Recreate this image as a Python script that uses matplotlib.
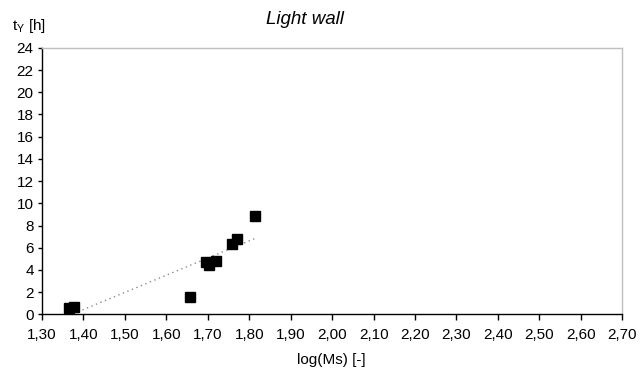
import numpy as np
import matplotlib.pyplot as plt
from matplotlib.ticker import FuncFormatter, MultipleLocator

plt.rcParams['font.family'] = ['Liberation Sans', 'DejaVu Sans']
plt.rcParams['mathtext.fontset'] = 'custom'
plt.rcParams['mathtext.rm'] = 'Liberation Sans'
plt.rcParams['mathtext.it'] = 'Liberation Sans:italic'

# measured points
log_ms = [1.365, 1.378, 1.656, 1.696, 1.704, 1.721, 1.758, 1.770, 1.815]
t_y = [0.59, 0.66, 1.57, 4.71, 4.48, 4.82, 6.37, 6.82, 8.88]

title = "Light wall"
xlabel = "log(Ms) [-]"
ylabel = r"t$_{\mathrm{Y}}$ [h]"

fig = plt.figure(figsize=(6.41, 3.69), dpi=100)
ax = fig.add_axes([0.0655, 0.148, 0.9053, 0.7225])

ax.plot(log_ms, t_y, 's', color='black', ms=7.6, zorder=3)

# linear trend over the data range
k, b = np.polyfit(log_ms, t_y, 1)
xs = np.array([min(log_ms), max(log_ms)])
ax.plot(xs, k * xs + b, color='#8c8c8c', lw=1.0, ls=(0, (1, 2.5)), zorder=2)

ax.set_xlim(1.30, 2.70)
ax.set_ylim(0, 24)
ax.xaxis.set_major_locator(MultipleLocator(0.1))
ax.yaxis.set_major_locator(MultipleLocator(2))
ax.xaxis.set_major_formatter(FuncFormatter(lambda v, p: f"{v:.2f}".replace('.', ',')))
ax.yaxis.set_major_formatter(FuncFormatter(lambda v, p: f"{v:.0f}"))

for s in ['top', 'right']:
    ax.spines[s].set_color('#bfbfbf')
    ax.spines[s].set_linewidth(1.0)
for s in ['left', 'bottom']:
    ax.spines[s].set_color('black')
    ax.spines[s].set_linewidth(1.0)

ax.tick_params(axis='x', direction='out', length=4, width=1, labelsize=11, pad=6)
ax.tick_params(axis='y', direction='out', length=3, width=1, labelsize=11, pad=3)

fig.text(0.475, 0.946, title, fontsize=13.5, style='italic', ha='center', va='center')
fig.text(0.018, 0.93, ylabel, fontsize=11, ha='left', va='center')
fig.text(0.517, 0.025, xlabel, fontsize=11, ha='center', va='center')

fig.savefig('out.png', dpi=100)
